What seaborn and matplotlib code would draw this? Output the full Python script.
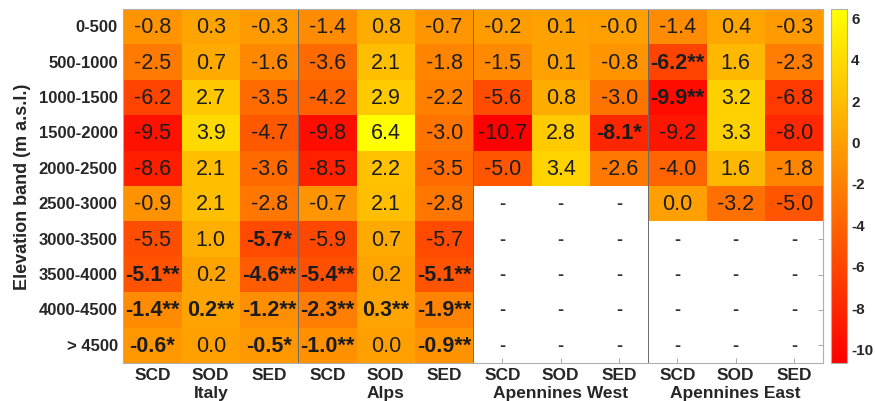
import numpy as np
import pandas as pd
import matplotlib
matplotlib.use("Agg")
import matplotlib.pyplot as plt
import seaborn as sns

bands = ["0-500", "500-1000", "1000-1500", "1500-2000", "2000-2500",
         "2500-3000", "3000-3500", "3500-4000", "4000-4500", "> 4500"]
metrics = ["SCD", "SOD", "SED"]
regions = ["Italy", "Alps", "Apennines West", "Apennines East"]
nan = np.nan

italy = [[-0.8, 0.3, -0.3], [-2.5, 0.7, -1.6], [-6.2, 2.7, -3.5], [-9.5, 3.9, -4.7],
         [-8.6, 2.1, -3.6], [-0.9, 2.1, -2.8], [-5.5, 1.0, -5.7], [-5.1, 0.2, -4.6],
         [-1.4, 0.2, -1.2], [-0.6, 0.0, -0.5]]
alps = [[-1.4, 0.8, -0.7], [-3.6, 2.1, -1.8], [-4.2, 2.9, -2.2], [-9.8, 6.4, -3.0],
        [-8.5, 2.2, -3.5], [-0.7, 2.1, -2.8], [-5.9, 0.7, -5.7], [-5.4, 0.2, -5.1],
        [-2.3, 0.3, -1.9], [-1.0, 0.0, -0.9]]
ap_west = [[-0.2, 0.1, -0.0], [-1.5, 0.1, -0.8], [-5.6, 0.8, -3.0], [-10.7, 2.8, -8.1],
           [-5.0, 3.4, -2.6], [nan, nan, nan], [nan, nan, nan], [nan, nan, nan],
           [nan, nan, nan], [nan, nan, nan]]
ap_east = [[-1.4, 0.4, -0.3], [-6.2, 1.6, -2.3], [-9.9, 3.2, -6.8], [-9.2, 3.3, -8.0],
           [-4.0, 1.6, -1.8], [0.0, -3.2, -5.0], [nan, nan, nan], [nan, nan, nan],
           [nan, nan, nan], [nan, nan, nan]]

sig_italy = [["", "", ""], ["", "", ""], ["", "", ""], ["", "", ""], ["", "", ""],
             ["", "", ""], ["", "", "*"], ["**", "", "**"], ["**", "**", "**"], ["*", "", "*"]]
sig_alps = [["", "", ""], ["", "", ""], ["", "", ""], ["", "", ""], ["", "", ""],
            ["", "", ""], ["", "", ""], ["**", "", "**"], ["**", "**", "**"], ["**", "", "**"]]
sig_west = [["", "", ""], ["", "", ""], ["", "", ""], ["", "", "*"], ["", "", ""],
            ["", "", ""], ["", "", ""], ["", "", ""], ["", "", ""], ["", "", ""]]
sig_east = [["", "", ""], ["**", "", ""], ["**", "", ""], ["", "", ""], ["", "", ""],
            ["", "", ""], ["", "", ""], ["", "", ""], ["", "", ""], ["", "", ""]]

values = np.hstack([np.array(italy), np.array(alps), np.array(ap_west), np.array(ap_east)])
sig = np.hstack([np.array(sig_italy), np.array(sig_alps), np.array(sig_west), np.array(sig_east)])
cols = [f"{m}_{r}" for r in regions for m in metrics]
df = pd.DataFrame(values, index=bands, columns=cols)

labels = np.empty(values.shape, dtype=object)
for i in range(values.shape[0]):
    for j in range(values.shape[1]):
        v = values[i, j]
        if np.isnan(v):
            labels[i, j] = ""
        else:
            s = f"{v:.1f}"
            labels[i, j] = s + sig[i, j]

sns.set_style("white")
plt.rcParams["font.family"] = ["Liberation Sans", "DejaVu Sans"]
plt.rcParams["axes.unicode_minus"] = False

fig = plt.figure(figsize=(8.75, 4.02), dpi=100)
ax = fig.add_axes([123.3 / 875, 1 - 364 / 402, 700 / 875, 354 / 402])
cax = fig.add_axes([831 / 875, 1 - 364 / 402, 16 / 875, 354 / 402])

sns.heatmap(df, ax=ax, cbar_ax=cax, cmap="autumn", vmin=np.nanmin(values), vmax=np.nanmax(values),
            annot=labels, fmt="", annot_kws={"fontsize": 15.5, "color": "#1c1c1c"},
            xticklabels=metrics * 4, yticklabels=bands)

for t in ax.texts:
    if "*" in t.get_text():
        t.set_fontweight("bold")
    t.set_color("#1c1c1c")

nr, nc = values.shape
for i in range(nr):
    for j in range(nc):
        if np.isnan(values[i, j]):
            ax.text(j + 0.5, i + 0.5, "-", ha="center", va="center", fontsize=13,
                    fontweight="bold", color="#333333")

for xv in [3, 6, 9]:
    ax.axvline(xv, color="#6b6b6b", lw=0.7)

for s in ax.spines.values():
    s.set_visible(True)
    s.set_color("#b0b0b0")
    s.set_linewidth(0.8)

ax.tick_params(axis="both", direction="in", length=3.5, width=0.6, color="#999999",
               bottom=True, top=True, left=True, right=True,
               labeltop=False, labelright=False)
ax.tick_params(axis="x", pad=3, labelsize=12.5, labelrotation=0)
ax.tick_params(axis="y", pad=4, labelsize=12, labelrotation=0)
for lab in ax.get_xticklabels() + ax.get_yticklabels():
    lab.set_fontweight("bold")
    lab.set_color("#262626")

for k, r in enumerate(regions):
    ax.text(3 * k + 1.5, -0.083, r, transform=ax.get_xaxis_transform(),
            ha="center", va="center", fontsize=12.5, fontweight="bold", color="#262626")

ax.set_xlabel("")
ax.set_ylabel("Elevation band (m a.s.l.)", fontsize=13, fontweight="bold", color="#262626",
              labelpad=6)

cb = ax.collections[0].colorbar
cb.set_ticks([6, 4, 2, 0, -2, -4, -6, -8, -10])
cax.tick_params(direction="in", length=3, width=0.6, color="#999999", labelsize=11, pad=3,
                left=True, right=True)
for lab in cax.get_yticklabels():
    lab.set_fontweight("bold")
    lab.set_color("#262626")
cb.outline.set_visible(True)
cb.outline.set_edgecolor("#b0b0b0")
cb.outline.set_linewidth(0.8)

fig.savefig("out.png", dpi=100)
